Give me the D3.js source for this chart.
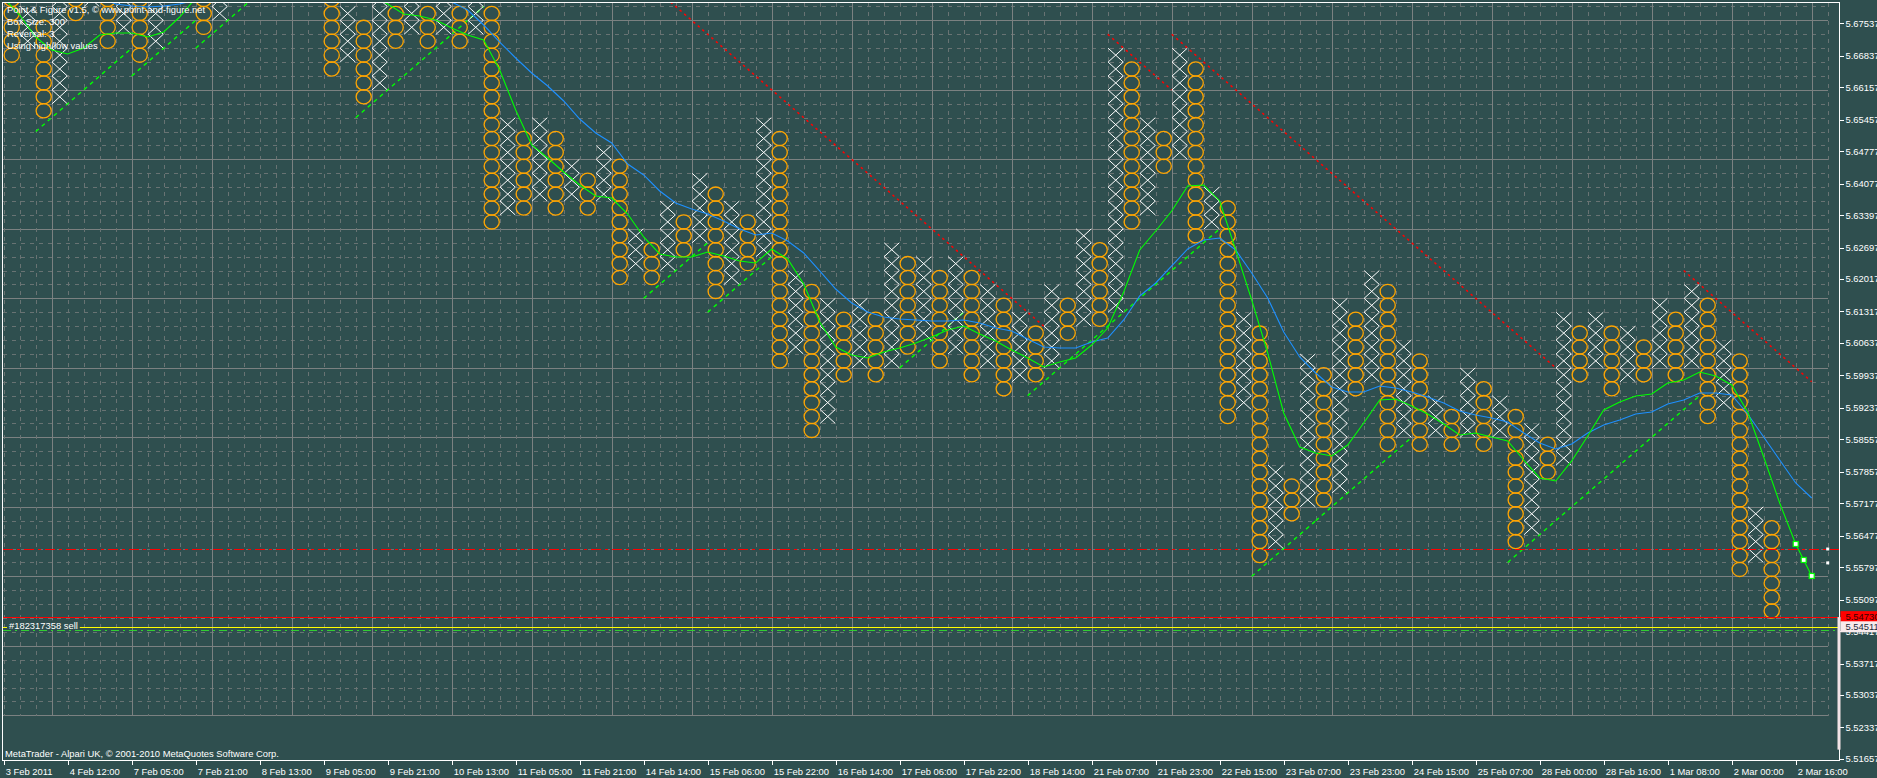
<!DOCTYPE html>
<html><head><meta charset="utf-8">
<script src="https://cdn.jsdelivr.net/npm/d3@7"></script>
<style>
html,body{margin:0;padding:0;background:#2f4f4f;overflow:hidden;}
svg{display:block;}
text{font-family:"Liberation Sans",Arial,sans-serif;font-size:9.4px;fill:#ffffff;}
</style></head><body>
<svg id="c" width="1877" height="778"></svg>
<script>
// ---------------- DATA ----------------
const boxSize = 0.003;
const colTypes = "OXOXOXOXOXOXOXOXOXOXOXOXOXOXOXOXOXOXOXOXOXOXOXOXOXOXOXOXOXOXOXOXOXOXOXOXOXOXOXOXOXOXOXOXOXOXOXOXOXOXOXOXOXOXOXO";
const colHigh = [5.6865,5.6775,5.6745,5.6865,5.6835,5.6895,5.6865,5.6835,5.6805,5.6925,
 5.6895,5.6955,5.6925,5.6985,5.6955,5.7015,5.6985,5.7045,5.7015,5.7045,
 5.7015,5.6775,5.6745,5.6805,5.6775,5.6805,5.6775,5.6805,5.6775,5.6805,
 5.6775,5.6535,5.6505,5.6535,5.6505,5.6445,5.6415,5.6475,5.6445,5.6295,
 5.6265,5.6355,5.6325,5.6415,5.6385,5.6355,5.6325,5.6535,5.6505,5.6205,
 5.6175,5.6145,5.6115,5.6145,5.6115,5.6265,5.6235,5.6235,5.6205,5.6235,
 5.6205,5.6175,5.6145,5.6115,5.6085,5.6175,5.6145,5.6295,5.6265,5.6685,
 5.6655,5.6535,5.6505,5.6685,5.6655,5.6385,5.6355,5.6115,5.6085,5.5785,
 5.5755,5.6025,5.5995,5.6145,5.6115,5.6205,5.6175,5.6055,5.6025,5.5935,
 5.5905,5.5995,5.5965,5.5935,5.5905,5.5875,5.5845,5.6115,5.6085,5.6115,
 5.6085,5.6085,5.6055,5.6145,5.6115,5.6175,5.6145,5.6055,5.6025,5.5695,
 5.5665,5.5575,5.5545];
const colLow = [5.6685,5.6715,5.6565,5.6595,5.6775,5.6805,5.6715,5.6745,5.6685,5.6715,
 5.6835,5.6865,5.6745,5.6775,5.6865,5.6895,5.6895,5.6925,5.6865,5.6895,
 5.6655,5.6685,5.6595,5.6625,5.6715,5.6745,5.6715,5.6745,5.6715,5.6745,
 5.6325,5.6355,5.6355,5.6385,5.6355,5.6385,5.6355,5.6385,5.6205,5.6235,
 5.6205,5.6235,5.6265,5.6295,5.6175,5.6205,5.6235,5.6265,5.6025,5.6055,
 5.5875,5.5905,5.5995,5.6025,5.5995,5.6025,5.6055,5.6085,5.6025,5.6055,
 5.5995,5.6025,5.5965,5.5995,5.5995,5.6025,5.6085,5.6115,5.6115,5.6145,
 5.6325,5.6355,5.6445,5.6475,5.6295,5.6325,5.5905,5.5935,5.5605,5.5635,
 5.5695,5.5725,5.5725,5.5755,5.5965,5.5995,5.5845,5.5875,5.5845,5.5875,
 5.5845,5.5875,5.5845,5.5875,5.5635,5.5665,5.5785,5.5815,5.5995,5.6025,
 5.5965,5.5995,5.5995,5.6025,5.5995,5.6025,5.5905,5.5935,5.5575,5.5605,
 5.5485,5.5515,5.5425];

// fast MA (green), one value per column boundary 0..113
const greenMA = [5.68083,5.67716,5.67241,5.66961,5.66874,5.67004,5.67285,5.67328,5.67328,5.67241,
 5.67349,5.67673,5.68083,5.68364,5.68580,5.68688,5.68731,5.68688,5.68644,5.68580,
 5.68472,5.68364,5.68256,5.68126,5.67954,5.67738,5.67695,5.67608,5.67436,5.67285,
 5.67177,5.66529,5.65666,5.64910,5.64630,5.64328,5.64047,5.63810,5.63766,5.63421,
 5.62925,5.62558,5.62493,5.62493,5.62601,5.62514,5.62406,5.62363,5.62666,5.62450,
 5.61910,5.61090,5.60550,5.60377,5.60313,5.60443,5.60528,5.60637,5.60766,5.60917,
 5.61004,5.60831,5.60680,5.60486,5.60313,5.60118,5.60226,5.60313,5.60593,5.60960,
 5.61737,5.62644,5.63054,5.63486,5.64025,5.64047,5.63702,5.62644,5.61565,5.60421,
 5.59126,5.58392,5.58262,5.58198,5.58435,5.58910,5.59406,5.59428,5.59277,5.59104,
 5.58888,5.58651,5.58694,5.58608,5.58522,5.58111,5.57723,5.57658,5.58090,5.58630,
 5.59191,5.59363,5.59493,5.59536,5.59773,5.59838,5.60011,5.59924,5.59730,5.59147,
 5.58176,5.57183,5.56298,5.55608];
// slow MA (blue), starting at boundary 6
const blueStart = 6;
const blueMA = [5.68083,5.67954,5.67910,5.67889,5.67910,5.67954,5.68040,5.68148,5.68256,5.68364,
 5.68472,5.68580,5.68644,5.68688,5.68688,5.68644,5.68580,5.68515,5.68429,5.68342,
 5.68256,5.68148,5.67997,5.67824,5.67500,5.67133,5.66788,5.66464,5.66184,5.65860,
 5.65471,5.65169,5.64953,5.64500,5.64263,5.63918,5.63658,5.63529,5.63421,5.63270,
 5.63097,5.62968,5.63011,5.62838,5.62579,5.62191,5.61802,5.61500,5.61306,5.61198,
 5.61155,5.61133,5.61111,5.61111,5.61133,5.61068,5.60960,5.60896,5.60723,5.60550,
 5.60528,5.60528,5.60658,5.60744,5.61133,5.61651,5.61932,5.62299,5.62666,5.62860,
 5.62903,5.62644,5.62146,5.61608,5.60874,5.60334,5.59989,5.59687,5.59579,5.59579,
 5.59708,5.59665,5.59579,5.59471,5.59341,5.59169,5.59083,5.59018,5.58932,5.58694,
 5.58478,5.58349,5.58457,5.58694,5.58867,5.58975,5.59104,5.59147,5.59320,5.59406,
 5.59557,5.59557,5.59514,5.59104,5.58608,5.58111,5.57615,5.57291];
const stopMarks = [[112,5.56298],[112.5,5.55953],[113,5.55608]];

// trend lines: [startBoundary, startPrice, endBoundary]
const supportLines = [[2,5.652,8],[8,5.664,12],[12,5.670,20],[22,5.655,30],[40,5.616,44],
 [44,5.613,48],[56,5.601,60],[64,5.595,76],[78,5.556,82],[82,5.568,88],[94,5.559,106]];
const resistLines = [[38,5.691,65],[69,5.673,73],[73,5.673,97],[105,5.622,113]];

// horizontal levels
const stopLevel = 5.5619;      // red dash-dot
const redLevel = 5.54730;      // red solid
const orderLevel = 5.54511;    // yellow (order)
const greenLevel = 5.5444;     // green dash-dot
const orderLabel = "#182317358 sell";

const priceTicks = [5.67537,5.66837,5.66157,5.65457,5.64777,5.64077,5.63397,5.62697,5.62017,5.61317,
 5.60637,5.59937,5.59237,5.58557,5.57857,5.57177,5.56477,5.55797,5.55097,5.54417,5.53717,5.53037,5.52337,5.51657];
const timeTickCols = [0,4,8,12,16,20,24,28,32,36,40,44,48,52,56,60,64,68,72,76,80,84,88,92,96,100,104,108,112];
const timeLabels = ["3 Feb 2011","4 Feb 12:00","7 Feb 05:00","7 Feb 21:00","8 Feb 13:00","9 Feb 05:00","9 Feb 21:00",
 "10 Feb 13:00","11 Feb 05:00","11 Feb 21:00","14 Feb 14:00","15 Feb 06:00","15 Feb 22:00","16 Feb 14:00",
 "17 Feb 06:00","17 Feb 22:00","18 Feb 14:00","21 Feb 07:00","21 Feb 23:00","22 Feb 15:00","23 Feb 07:00",
 "23 Feb 23:00","24 Feb 15:00","25 Feb 07:00","28 Feb 00:00","28 Feb 16:00","1 Mar 08:00","2 Mar 00:00","2 Mar 16:00"];
const infoLines = ["Point & Figure v1.5, \u00a9 www.point-and-figure.net","Box Size: 300","Reversal: 3","Using high/low values"];
const footer = "MetaTrader - Alpari UK, \u00a9 2001-2010 MetaQuotes Software Corp.";

// ---------------- DRAW ----------------
const svg = d3.select("#c");
const plot = {l:2.5, t:2.5, r:1839.5, b:760.5};
const x = d3.scaleLinear().domain([0,114]).range([3.7,1827.7]);
const y = d3.scaleLinear().domain([5.51657,5.67537]).range([759,23.3]);

svg.append("rect").attr("width",1877).attr("height",778).attr("fill","#2f4f4f");
svg.append("defs").append("clipPath").attr("id","pc").append("rect")
  .attr("x",plot.l+0.5).attr("y",plot.t+0.5).attr("width",plot.r-plot.l-1).attr("height",plot.b-plot.t-1);
const g = svg.append("g").attr("clip-path","url(#pc)");

// grid
const gridBottom = 5.526;
const levels = d3.range(-1, 51).map(k => ({k, p: 5.676 - k*boxSize}));
g.selectAll("line.hg").data(levels).join("line")
  .attr("x1",plot.l).attr("x2",x(114))
  .attr("y1",d=>Math.round(y(d.p))+0.5).attr("y2",d=>Math.round(y(d.p))+0.5)
  .attr("stroke",d=> (d.k%5===0)?"#7b8181":"#687373").attr("stroke-width",1)
  .attr("stroke-dasharray",d=> (d.k%5===0)?null:"4,5")
  .attr("shape-rendering","crispEdges");
const vcols = d3.range(0,115);
g.selectAll("line.vg").data(vcols).join("line")
  .attr("x1",d=>Math.round(x(d))+0.5).attr("x2",d=>Math.round(x(d))+0.5)
  .attr("y1",plot.t).attr("y2",Math.round(y(gridBottom))+0.5)
  .attr("stroke",d=> (d%5===3)?"#7b8181":"#687373").attr("stroke-width",1)
  .attr("stroke-dasharray",d=> (d%5===3)?null:"4,5")
  .attr("shape-rendering","crispEdges");

// trend lines
const tl = (arr, dir) => arr.map(([b0,p0,b1]) => ({x1:x(b0), y1:y(p0), x2:x(b1), y2:y(p0 + dir*boxSize*(b1-b0))}));
g.selectAll("line.sup").data(tl(supportLines, 1)).join("line")
  .attr("x1",d=>d.x1).attr("y1",d=>d.y1).attr("x2",d=>d.x2).attr("y2",d=>d.y2)
  .attr("stroke","#00ff00").attr("stroke-width",1.4).attr("stroke-dasharray","4,4");
g.selectAll("line.res").data(tl(resistLines, -1)).join("line")
  .attr("x1",d=>d.x1).attr("y1",d=>d.y1).attr("x2",d=>d.x2).attr("y2",d=>d.y2)
  .attr("stroke","#ff0000").attr("stroke-width",1.5).attr("stroke-dasharray","2.5,3.5");

// P&F boxes
const boxes = [];
colTypes.split("").forEach((t,i) => {
  const n = Math.round((colHigh[i]-colLow[i])/boxSize) + 1;
  for (let k=0;k<n;k++) boxes.push({t, i, p: colHigh[i] - k*boxSize});
});
const hh = (y(0) - y(boxSize))/2;
const xs = boxes.filter(d=>d.t==="X");
const os = boxes.filter(d=>d.t==="O");
g.selectAll("path.x").data(xs).join("path")
  .attr("d", d => {
    const cx = x(d.i+0.5), cy = y(d.p), w = 7.6, h = hh;
    return `M${cx-w},${cy-h}L${cx+w},${cy+h}M${cx-w},${cy+h}L${cx+w},${cy-h}`;
  })
  .attr("stroke","#ffffff").attr("stroke-width",1).attr("fill","none");
g.selectAll("ellipse.o").data(os).join("ellipse")
  .attr("cx",d=>x(d.i+0.5)).attr("cy",d=>y(d.p))
  .attr("rx",7.6).attr("ry",7.1)
  .attr("fill","none").attr("stroke","#ffa500").attr("stroke-width",1.3);

// moving averages
const line = d3.line().x(d=>x(d[0])).y(d=>y(d[1]));
g.append("path").datum(blueMA.map((v,k)=>[k+blueStart,v]))
  .attr("d",line).attr("fill","none").attr("stroke","#1e90ff").attr("stroke-width",1.1);
g.append("path").datum(greenMA.map((v,k)=>[k,v]))
  .attr("d",line).attr("fill","none").attr("stroke","#00ff00").attr("stroke-width",1.1);
g.selectAll("rect.sm").data(stopMarks).join("rect")
  .attr("x",d=>x(d[0])-2.5).attr("y",d=>y(d[1])-2.5).attr("width",5).attr("height",5)
  .attr("fill","#ffffff").attr("stroke","#00ff00").attr("stroke-width",1.2);

// horizontal levels
const hline = (p, color, dash, w) => g.append("line")
  .attr("x1",plot.l).attr("x2",plot.r-1).attr("y1",Math.round(y(p))+0.5).attr("y2",Math.round(y(p))+0.5)
  .attr("stroke",color).attr("stroke-width",w||1).attr("stroke-dasharray",dash).attr("shape-rendering","crispEdges");
hline(stopLevel, "#ff0000", "10,4,3,4", 1.2);
hline(redLevel, "#ff0000", null, 1.2);
hline(orderLevel, "#ffff00", null, 1.2);
// order label with background
const ol = g.append("text").attr("x",9).attr("y",y(orderLevel)+2.5).text(orderLabel);
const bb = ol.node().getBBox();
g.insert("rect","text").attr("x",bb.x-2).attr("y",bb.y).attr("width",bb.width+4).attr("height",bb.height-1).attr("fill","#2f4f4f");
ol.raise();
hline(greenLevel, "#32cd32", "8,4,2,4", 1.2);

// small markers at right
g.selectAll("rect.mk").data([stopLevel, stopLevel-boxSize]).join("rect")
  .attr("x",x(114)-1.5).attr("y",d=>y(d)-1.5).attr("width",3).attr("height",3).attr("fill","#ffffff");

// frame
svg.append("rect").attr("x",plot.l).attr("y",plot.t).attr("width",plot.r-plot.l).attr("height",plot.b-plot.t)
  .attr("fill","none").attr("stroke","#ffffff").attr("stroke-width",1).attr("shape-rendering","crispEdges");

// texts
svg.selectAll("text.info").data(infoLines).join("text")
  .attr("x",7).attr("y",(d,i)=>12.5+i*12).text(d=>d);
svg.append("text").attr("x",5).attr("y",756.5).text(footer);

// price axis
svg.selectAll("line.pt").data(priceTicks).join("line")
  .attr("x1",plot.r).attr("x2",plot.r+4).attr("y1",d=>Math.round(y(d))+0.5).attr("y2",d=>Math.round(y(d))+0.5)
  .attr("stroke","#ffffff").attr("shape-rendering","crispEdges");
svg.selectAll("text.pt").data(priceTicks).join("text")
  .attr("x",plot.r+6).attr("y",d=>y(d)+3.4).text(d=>d.toFixed(5));
// price labels for lines
svg.append("rect").attr("x",plot.r+1).attr("y",y(redLevel)-5.5).attr("width",40).attr("height",11).attr("fill","#ff0000");
svg.append("text").attr("x",plot.r+6).attr("y",y(redLevel)+3.4).style("fill","#3a0000").text(redLevel.toFixed(5));
svg.append("rect").attr("x",plot.r-2).attr("y",y(redLevel)+0.5).attr("width",3).attr("height",y(5.5187)-y(redLevel)).attr("fill","#f3e3e6");
svg.append("rect").attr("x",plot.r+1).attr("y",y(orderLevel)-5.5).attr("width",40).attr("height",11).attr("fill","#f8eaec");
svg.append("text").attr("x",plot.r+6).attr("y",y(orderLevel)+3.4).style("fill","#1c2a3a").text(orderLevel.toFixed(5));

// time axis
svg.selectAll("line.tt").data(timeTickCols).join("line")
  .attr("x1",d=>Math.round(x(d))+0.5).attr("x2",d=>Math.round(x(d))+0.5).attr("y1",plot.b).attr("y2",plot.b+4)
  .attr("stroke","#ffffff").attr("shape-rendering","crispEdges");
svg.selectAll("text.tt").data(timeTickCols).join("text")
  .attr("x",d=>x(d)+2).attr("y",774.5).text((d,i)=>timeLabels[i]);
</script>
</body></html>
